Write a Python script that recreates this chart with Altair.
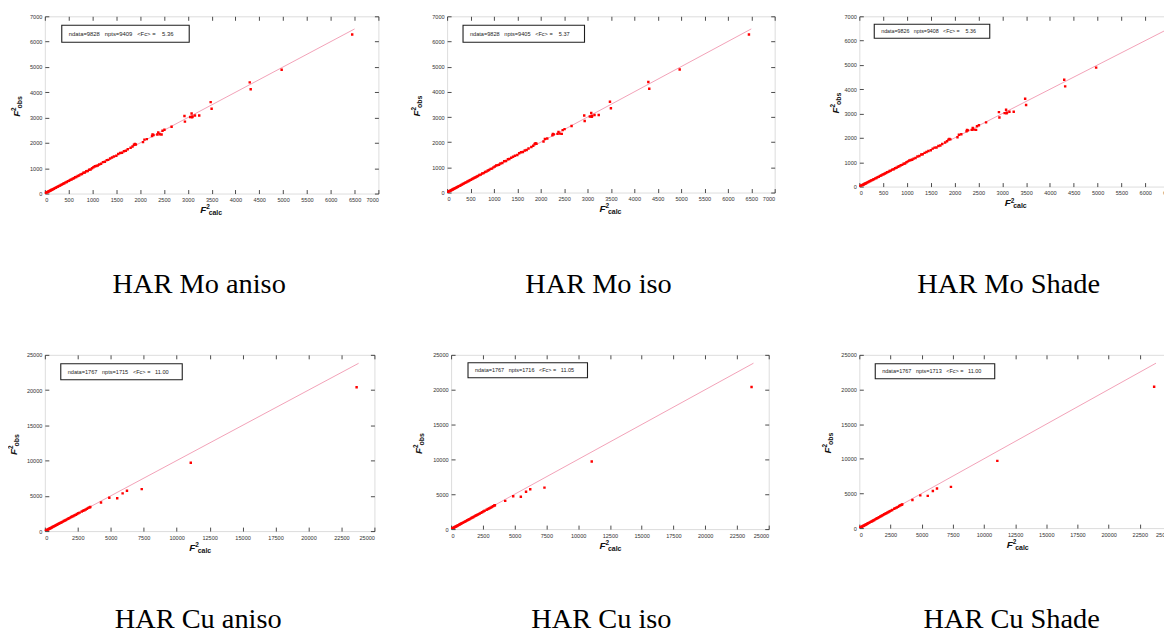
import altair as alt
import pandas as pd

# ---------------- data ----------------
mo_calc = [5, 15, 25, 35, 45, 60, 75, 90, 105, 120, 135, 150, 170, 190, 210, 230, 250, 270, 290, 310,
           335, 360, 385, 410, 435, 460, 485, 510, 535, 560, 585, 610, 635, 660, 690, 720, 750, 780, 810, 840,
           870, 900, 930, 960, 990, 1020, 1050, 1080, 1110, 1140, 1180, 1220, 1260, 1300, 1330, 1370, 1410, 1450,
           1500, 1540, 1580, 1620, 1660, 1700, 1740, 1800, 1840, 1870, 1890, 1910,
           2060, 2090, 2140, 2250, 2260, 2280, 2360, 2380, 2410, 2450, 2470, 2510, 2660,
           2930, 2940, 3050, 3080, 3090, 3100, 3150, 3240, 3480, 3500, 4300, 4320, 4970, 6450]
mo_obs = [8, 14, 28, 33, 48, 58, 78, 88, 108, 118, 138, 148, 172, 187, 213, 228, 254, 266, 293, 306,
          338, 356, 389, 405, 440, 455, 490, 505, 540, 555, 590, 604, 641, 655, 696, 713, 757, 772, 818, 832,
          878, 892, 940, 951, 1000, 1035, 1075, 1090, 1105, 1150, 1175, 1240, 1255, 1320, 1330, 1385, 1420, 1460,
          1495, 1560, 1600, 1610, 1670, 1690, 1750, 1810, 1860, 1930, 1960, 1940,
          2030, 2130, 2150, 2270, 2330, 2310, 2330, 2410, 2340, 2330, 2480, 2520, 2640,
          3060, 2840, 3020, 3160, 3010, 3040, 3080, 3080, 3610, 3350, 4390, 4120, 4890, 6280]

cu_calc = [10, 40, 80, 120, 160, 200, 250, 300, 350, 400, 460, 520, 580, 640, 700, 770, 840, 910, 980,
           1050, 1120, 1200, 1280, 1360, 1440, 1520, 1600, 1680, 1760, 1840, 1920, 2000, 2080, 2170, 2260,
           2350, 2440, 2540, 2640, 2800, 2900, 3000, 3100, 3200, 3300, 3400, 3450,
           4260, 4890, 5490, 5900, 6230, 7350, 11070, 23650]
cu_obs = [12, 38, 78, 118, 156, 196, 244, 292, 344, 392, 450, 510, 566, 628, 690, 756, 826, 895, 962,
          1034, 1102, 1180, 1262, 1340, 1420, 1500, 1580, 1660, 1740, 1826, 1905, 1985, 2060, 2150, 2240,
          2330, 2420, 2520, 2620, 2780, 2880, 2960, 3060, 3180, 3290, 3380, 3420,
          4050, 4720, 4650, 5350, 5720, 5950, 9700, 20400]

mo_line_x = [0, 6500]
mo_line_y = [0, 6500]
cu_line_x = [0, 23800]
cu_line_y = [0, 23800]

mo_x_ticks = [0, 500, 1000, 1500, 2000, 2500, 3000, 3500, 4000, 4500, 5000, 5500, 6000, 6500, 7000]
mo_y_ticks = [0, 1000, 2000, 3000, 4000, 5000, 6000, 7000]
cu_x_ticks = [0, 2500, 5000, 7500, 10000, 12500, 15000, 17500, 20000, 22500, 25000]
cu_y_ticks = [0, 5000, 10000, 15000, 20000, 25000]

captions = ["HAR Mo aniso", "HAR Mo iso", "HAR Mo Shade", "HAR Cu aniso", "HAR Cu iso", "HAR Cu Shade"]
ndata = ["9828", "9828", "9826", "1767", "1767", "1767"]
npts = ["9409", "9405", "9408", "1715", "1716", "1713"]
mean_fc = ["5.36", "5.37", "5.36", "11.00", "11.05", "11.00"]

# ---------------- layout / style (not data) ----------------
widths = [335, 329, 335, 331, 319, 313]
heights = [178, 177, 171, 177, 175, 174]
cap_x = [155, 152, 150, 154, 151, 153]
cap_y = [278, 278, 278, 274, 274, 274]
ytitle_x = [-25, -27, -20, -28, -29, -28]
xtitle_x = [156, 153, 146, 145, 149, 148]
boxes = [[17, 145, 9, 26], [16, 138, 9, 26], [15, 131, 8, 22],
         [16, 138, 9, 25], [17, 137, 8, 23], [16, 136, 9, 24]]

RED = "#ff0000"
PINK = "#ef8aa6"
FRAME = "#1e1e1e"
NB = "\u00a0"


def axis(orient, values, labels=True):
    return alt.Axis(orient=orient, values=values, labels=labels, title=None, format="d",
                    offset=-4, tickSize=4, tickColor=FRAME, tickWidth=0.8, domain=False, grid=False,
                    minExtent=0, labelFont="Liberation Sans", labelFontSize=5.6, labelColor="#333333",
                    labelPadding=3 if orient in ("left", "right") else 4)


def text_layer(txt, x, y, **kw):
    d = pd.DataFrame({"t": [txt]})
    return alt.Chart(d).mark_text(**kw).encode(text="t:N", x=alt.value(x), y=alt.value(y))


def panel(i):
    mo = i < 3
    calc = mo_calc if mo else cu_calc
    obs = mo_obs if mo else cu_obs
    lx = mo_line_x if mo else cu_line_x
    ly = mo_line_y if mo else cu_line_y
    xt = mo_x_ticks if mo else cu_x_ticks
    yt = mo_y_ticks if mo else cu_y_ticks
    w, h = widths[i], heights[i]
    xs = alt.Scale(domain=[xt[0], xt[-1]], nice=False, zero=False)
    ys = alt.Scale(domain=[yt[0], yt[-1]], nice=False, zero=False)

    line = alt.Chart(pd.DataFrame({"calc": lx, "obs": ly})).mark_line(
        color=PINK, strokeWidth=0.8, clip=True).encode(
        x=alt.X("calc:Q", scale=xs, axis=axis("bottom", xt)),
        y=alt.Y("obs:Q", scale=ys, axis=axis("left", yt)))

    pts = alt.Chart(pd.DataFrame({"calc": calc, "obs": obs})).mark_square(
        size=6, color=RED, opacity=1, clip=True).encode(
        x=alt.X("calc:Q", scale=xs, axis=axis("top", xt, labels=False)),
        y=alt.Y("obs:Q", scale=ys, axis=axis("right", yt, labels=False)))

    bx = boxes[i]
    box = alt.Chart(pd.DataFrame({"a": [0]})).mark_rect(
        fill="white", stroke=FRAME, strokeWidth=1.1).encode(
        x=alt.value(bx[0]), x2=alt.value(bx[1]), y=alt.value(bx[2]), y2=alt.value(bx[3]))
    stat = (f"ndata={ndata[i]}{NB*3}npts={npts[i]}{NB*3}<Fc>{NB}={NB*2}"
            f"{NB*(2 if mo else 1)}{mean_fc[i]}")
    fs = (bx[1] - bx[0]) * 0.046
    stats = text_layer(stat, bx[0] + 7, (bx[2] + bx[3]) / 2, align="left", baseline="middle",
                       font="Liberation Sans", fontSize=fs, color="#222222")

    xtx = xtitle_x[i]
    xt_f = text_layer("F", xtx, h + 20, align="left", baseline="alphabetic", font="Liberation Sans",
                      fontSize=10, fontStyle="italic", fontWeight="bold", color="#111111")
    xt_2 = text_layer("2", xtx + 6, h + 16, align="left", baseline="alphabetic", font="Liberation Sans",
                      fontSize=6.5, fontWeight="bold", color="#111111")
    xt_c = text_layer("calc", xtx + 8.5, h + 22, align="left", baseline="alphabetic",
                      font="Liberation Sans", fontSize=7, fontWeight="bold", color="#111111")

    ytx = ytitle_x[i]
    cy = h / 2
    yt_f = text_layer("F", ytx, cy + 12, angle=270, align="left", baseline="alphabetic",
                      font="Liberation Sans", fontSize=10, fontStyle="italic", fontWeight="bold",
                      color="#111111")
    yt_2 = text_layer("2", ytx - 4, cy + 6, angle=270, align="left", baseline="alphabetic",
                      font="Liberation Sans", fontSize=6.5, fontWeight="bold", color="#111111")
    yt_o = text_layer("obs", ytx + 2, cy + 3.5, angle=270, align="left", baseline="alphabetic",
                      font="Liberation Sans", fontSize=7, fontWeight="bold", color="#111111")

    cap = text_layer(captions[i], cap_x[i], cap_y[i], align="center", baseline="alphabetic",
                     font="Liberation Serif", fontSize=28.5, color="#000000")

    return alt.layer(line, pts, box, stats, xt_f, xt_2, xt_c, yt_f, yt_2, yt_o, cap).resolve_axis(
        x="independent", y="independent").properties(width=w, height=h)


row1 = alt.hconcat(alt.hconcat(panel(0), panel(1), spacing=69, bounds="flush"),
                   panel(2), spacing=54, bounds="full")
row2 = alt.hconcat(alt.hconcat(panel(3), panel(4), spacing=77, bounds="flush"),
                   panel(5), spacing=52, bounds="full")

chart = alt.vconcat(row1, row2, spacing=53).properties(
    padding={"left": -1, "top": 4, "right": -30, "bottom": -5}
).configure_view(stroke=FRAME, strokeWidth=1).configure(background="white")

chart.save("out.html", embed_options={"renderer": "svg", "actions": False})
